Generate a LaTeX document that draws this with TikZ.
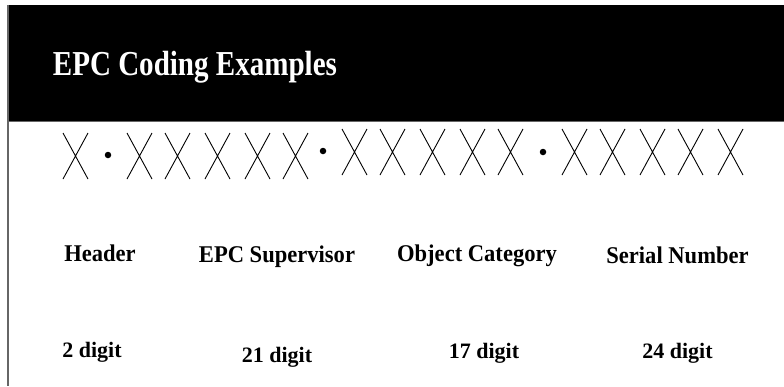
\documentclass[tikz,border=0pt]{standalone}
\usepackage{fontspec}
\setmainfont{Liberation Serif}
\begin{document}
\begin{tikzpicture}[x=1pt,y=-1pt,
  framegray/.style={draw=black!60,line width=1.4pt},
  xline/.style={draw=black,line width=0.9pt},
  digitx/.pic={\draw[xline] (-12.5,-23) -- (12.5,23) (-12.5,23) -- (12.5,-23);},
  sepdot/.style={fill=black,circle,inner sep=0pt,minimum size=6.5pt},
  field/.style={font=\bfseries\fontsize{24}{28}\selectfont,anchor=base,inner sep=0pt},
  size/.style={font=\bfseries\fontsize{22}{26}\selectfont,anchor=base,inner sep=0pt}]
  \useasboundingbox (0,0) rectangle (784,386);
  % title bar
  \fill[black] (9,5) rectangle (784,121);
  \draw[framegray] (8,121.5) -- (784,121.5);
  \draw[framegray] (8,5) -- (8,386);
  \node[anchor=base west,inner sep=0pt,text=white,font=\bfseries\fontsize{35}{40}\selectfont]
    (title) at (52.7,75) {\scalebox{0.83}[1]{EPC Coding Examples}};
  % code pattern X.XXXXX.XXXXX.XXXXX
  \foreach \cx in {75.5,139.5,177.5,217.5,257.5,295.5}
    \pic at (\cx,156) {digitx};
  \foreach \cx in {354.5,392.5,432.5,472.5,510.5,574.5,612.5,652.5,690.5,730.5}
    \pic at (\cx,152) {digitx};
  \node[sepdot] (dot1) at (108,155) {};
  \node[sepdot] (dot2) at (323,151) {};
  \node[sepdot] (dot3) at (543,152) {};
  % field names
  \node[field] (header) at (100,261) {\scalebox{0.94}[1]{Header}};
  \node[field] (super) at (277,262) {\scalebox{0.94}[1]{EPC Supervisor}};
  \node[field] (objcat) at (477,261) {\scalebox{0.94}[1]{Object Category}};
  \node[field] (serial) at (677.5,263) {\scalebox{0.94}[1]{Serial Number}};
  % field lengths
  \node[size] (len1) at (92,357) {2 digit};
  \node[size] (len2) at (277,362) {21 digit};
  \node[size] (len3) at (484,358) {17 digit};
  \node[size] (len4) at (677.5,358) {24 digit};
\end{tikzpicture}
\end{document}
